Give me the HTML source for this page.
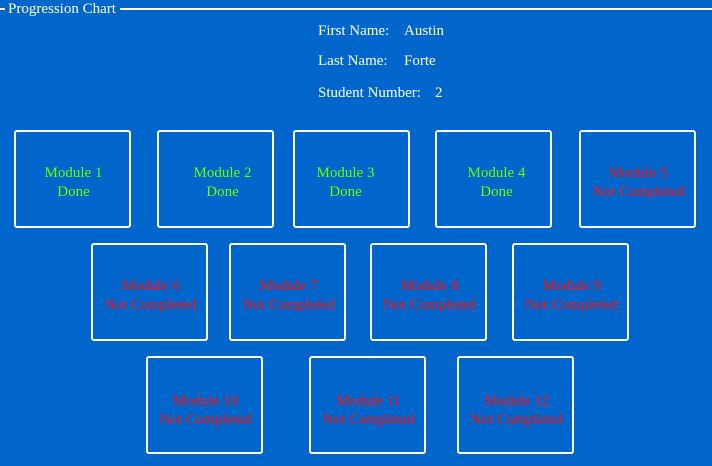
<!DOCTYPE html>
<html><head><style>
html,body{margin:0;padding:0;width:712px;height:466px;background:#0066cc;overflow:hidden;font-family:"Liberation Serif","Times New Roman","DejaVu Serif",serif;}
.line{position:absolute;top:8px;height:2px;background:#fff;}
.t{position:absolute;color:#fff;font-size:15px;line-height:18px;white-space:nowrap;font-family:"Liberation Serif","Times New Roman",serif;}
.b{position:absolute;width:113px;height:94px;border:2px solid #fff;border-radius:3px;box-sizing:content-box;}
.l{position:absolute;left:0;width:100%;font-size:15px;line-height:19px;white-space:nowrap;text-align:center;font-family:"Liberation Serif","Times New Roman",serif;}
.g{color:#66ff00}.r{color:#ff1010}
</style></head><body>
<div class="line" style="left:0;width:5px"></div>
<div class="line" style="left:120px;width:592px"></div>
<div class="t" style="left:8px;top:0px;font-size:15px">Progression Chart</div>
<div class="t" style="left:318px;top:22px">First Name:</div>
<div class="t" style="left:404px;top:22px">Austin</div>
<div class="t" style="left:318px;top:52px">Last Name:</div>
<div class="t" style="left:404px;top:52px">Forte</div>
<div class="t" style="left:318px;top:84px">Student Number:</div>
<div class="t" style="left:435px;top:84px">2</div>

<div class="b" style="left:14px;top:130px"><div class="l g" style="top:32px;left:1px">Module 1<br>Done</div></div>
<div class="b" style="left:157px;top:130px"><div class="l g" style="top:32px;left:7px">Module 2<br>Done</div></div>
<div class="b" style="left:293px;top:130px"><div class="l g" style="top:32px;left:-6px">Module 3<br>Done</div></div>
<div class="b" style="left:435px;top:130px"><div class="l g" style="top:32px;left:3px">Module 4<br>Done</div></div>
<div class="b" style="left:579px;top:130px"><div class="l r" style="top:32px;left:1px">Module 5<br>Not Completed</div></div>

<div class="b" style="left:91px;top:243px"><div class="l r" style="top:32px;left:1px">Module 6<br>Not Completed</div></div>
<div class="b" style="left:229px;top:243px"><div class="l r" style="top:32px;left:1px">Module 7<br>Not Completed</div></div>
<div class="b" style="left:370px;top:243px"><div class="l r" style="top:32px;left:1px">Module 8<br>Not Completed</div></div>
<div class="b" style="left:512px;top:243px"><div class="l r" style="top:32px;left:1px">Module 9<br>Not Completed</div></div>

<div class="b" style="left:146px;top:356px"><div class="l r" style="top:34px;left:1px">Module 10<br>Not Completed</div></div>
<div class="b" style="left:309px;top:356px"><div class="l r" style="top:34px;left:1px">Module 11<br>Not Completed</div></div>
<div class="b" style="left:457px;top:356px"><div class="l r" style="top:34px;left:1px">Module 12<br>Not Completed</div></div>
</body></html>
